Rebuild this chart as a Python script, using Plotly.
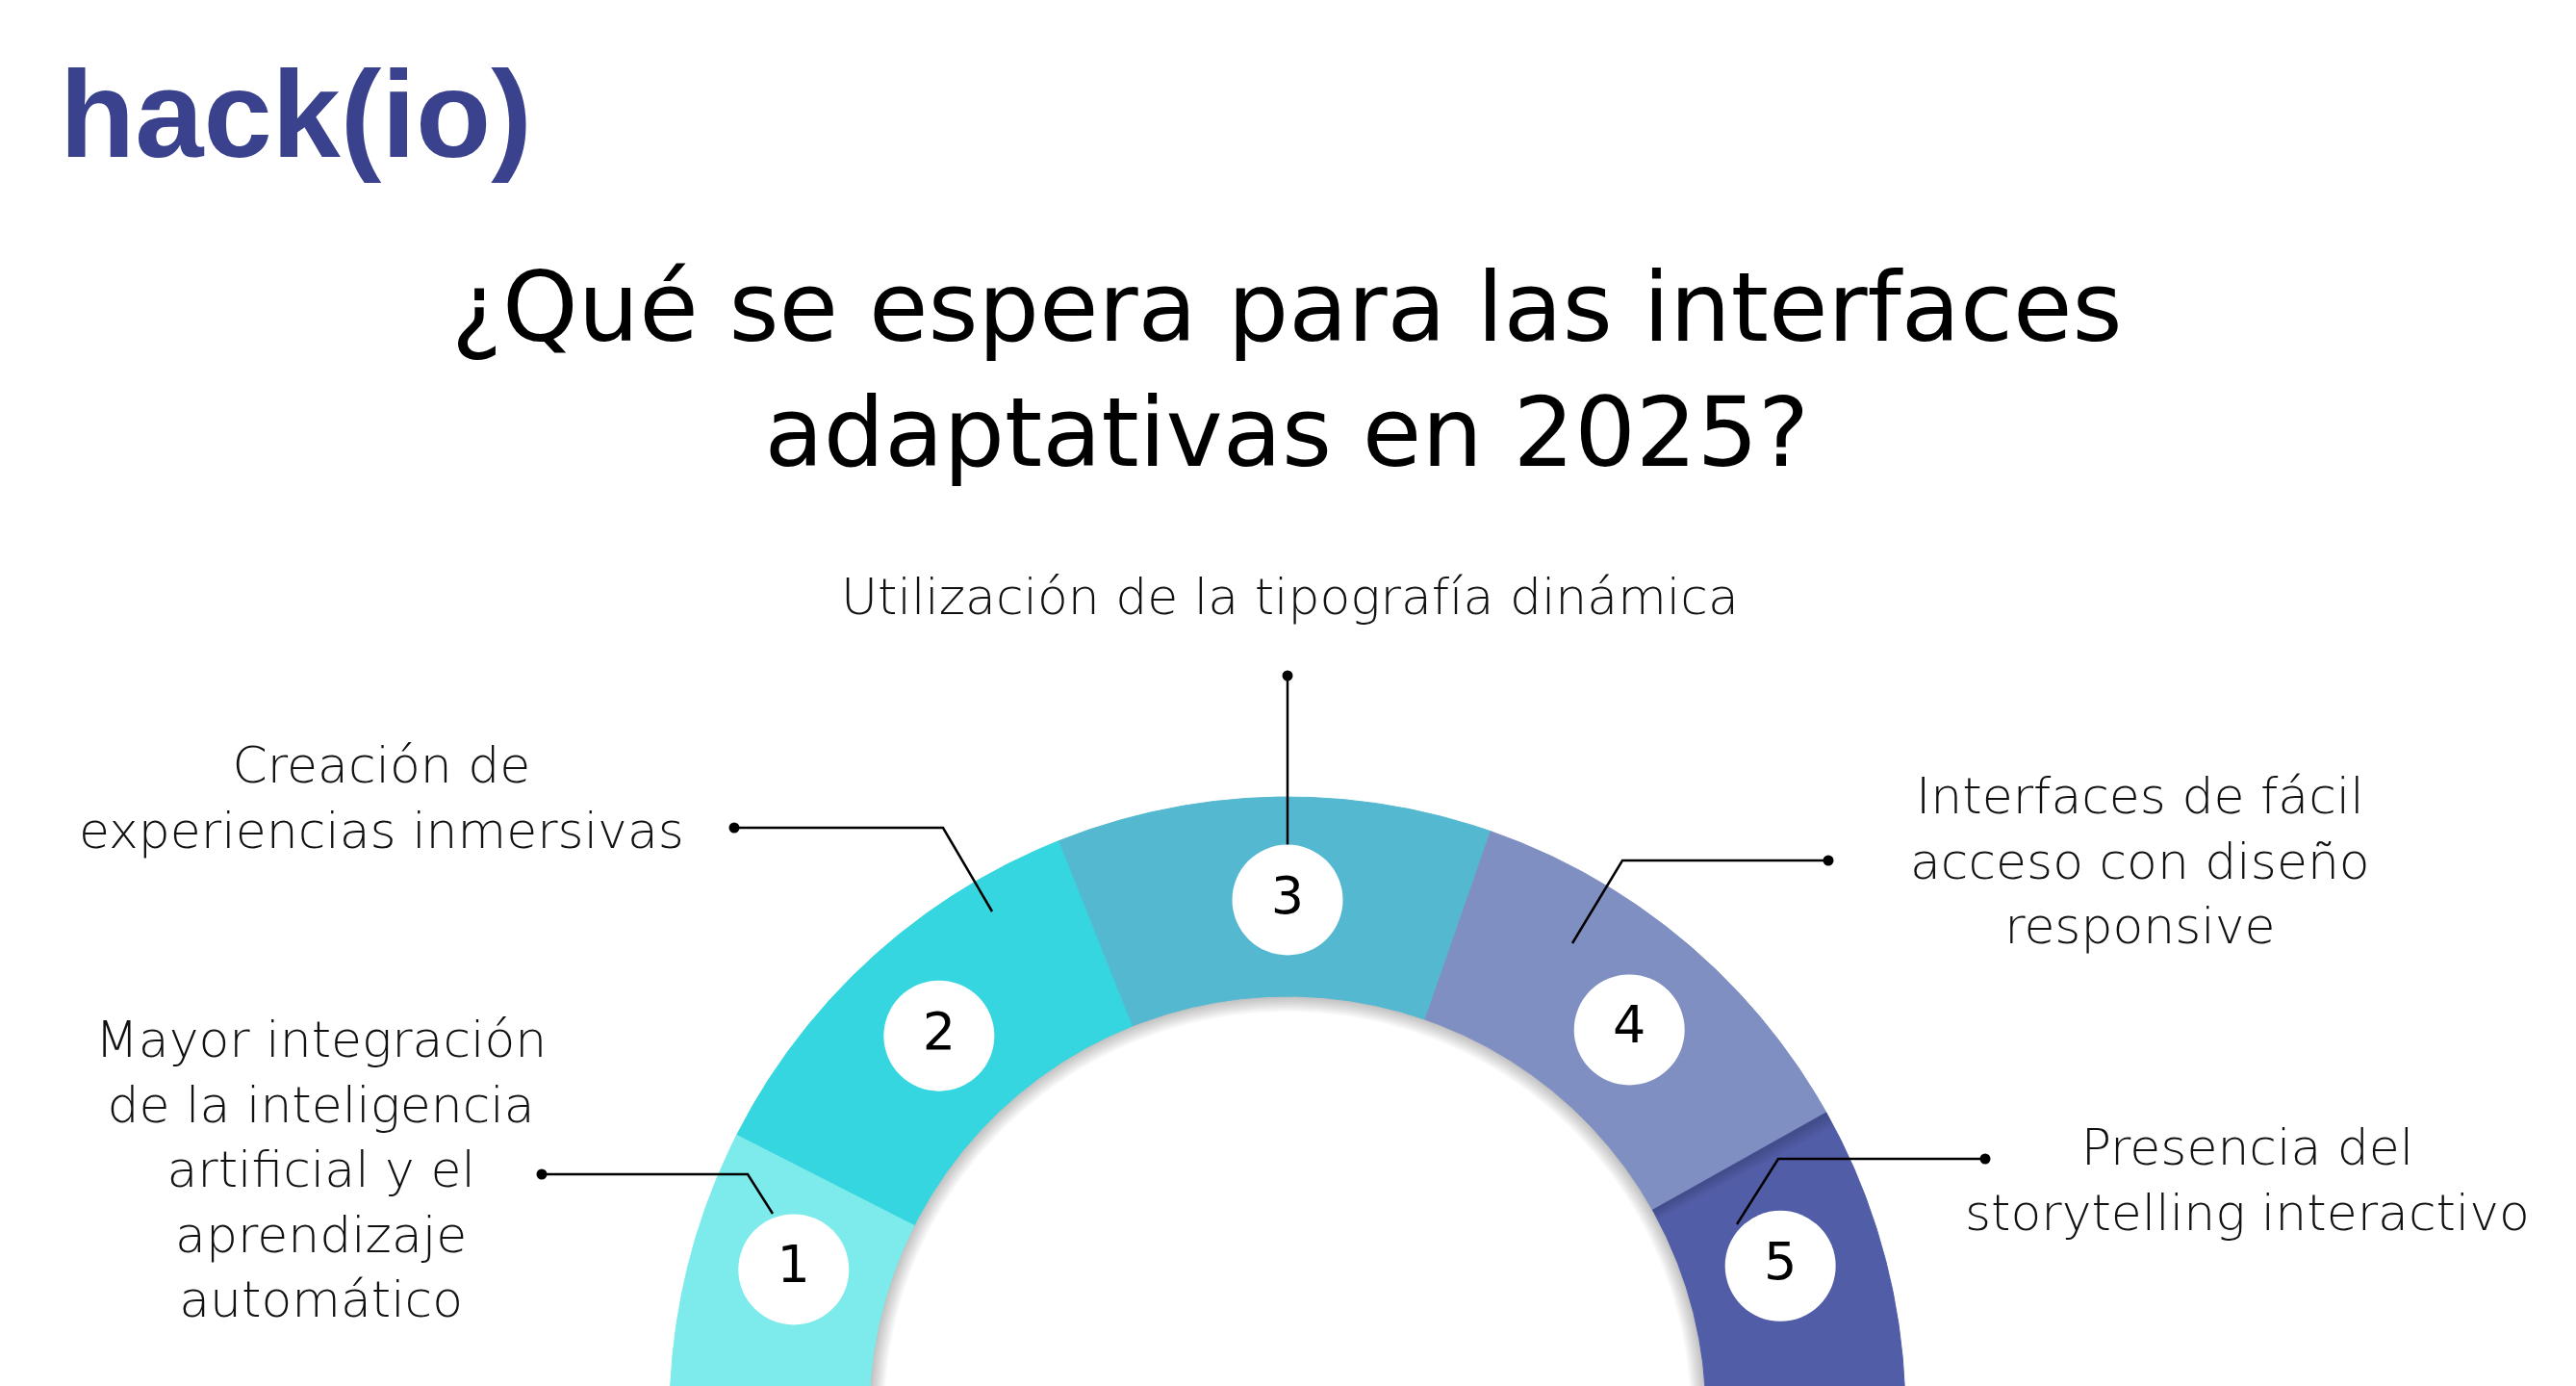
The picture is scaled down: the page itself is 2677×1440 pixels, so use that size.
import numpy as np
import plotly.graph_objects as go

# ---------------- data ----------------
ITEM_NUMBERS = ["1", "2", "3", "4", "5"]
SEGMENT_SPAN_DEG = [27.0, 41.3, 40.9, 41.5, 29.3]   # angular share of the half ring, left to right
SEGMENT_COLORS = ["#7DEBEB", "#35D6DF", "#54B8D0", "#7F8FC1", "#525DA8"]
ITEM_LABELS = [
    ["Mayor integración", "de la inteligencia", "artificial y el", "aprendizaje", "automático"],
    ["Creación de", "experiencias inmersivas"],
    ["Utilización de la tipografía dinámica"],
    ["Interfaces de fácil", "acceso con diseño", "responsive"],
    ["Presencia del", "storytelling interactivo"],
]
TITLE_LINES = ["¿Qué se espera para las interfaces", "adaptativas en 2025?"]
LOGO_TEXT = "hack(io)"

# ---------------- layout geometry (pixels) ----------------
W, H = 2677, 1440
CX, CY = 1338, 1470
R_OUT, R_IN = 642, 435
R_BADGE = 535
BADGE_ANGLE = [163.6, 132.6, 90.0, 48.4, 16.8]      # where the numbered badges sit on the ring
TEXT_FONT = "'DejaVu Sans', 'Open Sans', sans-serif"

# label blocks: centre x, centre y of the whole block
LABEL_POS = [(333, 1215), (396, 829), (1340, 620), (2224, 894), (2335, 1226)]
# leader lines (label end with dot first)
LEADERS = [
    [(563, 1220), (777, 1220), (803, 1261)],
    [(763, 860), (980, 860), (1031, 947)],
    [(1338, 702), (1338, 878)],
    [(1900, 894), (1686, 894), (1634, 980)],
    [(2063, 1204), (1848, 1204), (1805, 1272)],
]

fig = go.Figure()


def annulus(a0, a1, r0, r1, n=160):
    t = np.radians(np.linspace(a0, a1, n))
    xo = CX + r1 * np.cos(t)
    yo = CY - r1 * np.sin(t)
    xi = CX + r0 * np.cos(t[::-1])
    yi = CY - r0 * np.sin(t[::-1])
    return np.concatenate([xo, xi, xo[:1]]), np.concatenate([yo, yi, yo[:1]])


# soft shadow inside the inner edge
for d in range(2, 17, 2):
    xs, ys = annulus(0, 180, R_IN - d, R_IN + 2)
    fig.add_trace(go.Scatter(x=xs, y=ys, mode="lines", fill="toself",
                             fillcolor="rgba(0,0,0,0.03)", line=dict(width=0),
                             hoverinfo="skip", showlegend=False))

# ring segments
bounds = 180 - np.concatenate([[0], np.cumsum(SEGMENT_SPAN_DEG)])
for i, col in enumerate(SEGMENT_COLORS):
    a0, a1 = bounds[i], bounds[i + 1]
    xs, ys = annulus(a0, a1, R_IN, R_OUT)
    fig.add_trace(go.Scatter(x=xs, y=ys, mode="lines", fill="toself",
                             fillcolor=col, line=dict(width=1, color=col),
                             hoverinfo="skip", showlegend=False))

# subtle shadow where segment 5 meets segment 4
b45 = bounds[4]
for k in range(1, 5):
    xs, ys = annulus(b45 - 0.35 * k, b45, R_IN, R_OUT, n=40)
    fig.add_trace(go.Scatter(x=xs, y=ys, mode="lines", fill="toself",
                             fillcolor="rgba(0,0,0,0.045)", line=dict(width=0),
                             hoverinfo="skip", showlegend=False))

# leader lines
for pts in LEADERS:
    px = [p[0] for p in pts]
    py = [p[1] for p in pts]
    fig.add_trace(go.Scatter(x=px, y=py, mode="lines", line=dict(color="black", width=2.5),
                             hoverinfo="skip", showlegend=False))
    fig.add_trace(go.Scatter(x=[px[0]], y=[py[0]], mode="markers",
                             marker=dict(color="black", size=11),
                             hoverinfo="skip", showlegend=False))

# number badges
ang = np.radians(BADGE_ANGLE)
fig.add_trace(go.Scatter(
    x=CX + R_BADGE * np.cos(ang), y=CY - R_BADGE * np.sin(ang),
    mode="markers+text", text=ITEM_NUMBERS, textposition="middle center",
    marker=dict(color="white", size=115, line=dict(width=0)),
    textfont=dict(family=TEXT_FONT, size=54, color="black", weight=500),
    hoverinfo="skip", showlegend=False))

annotations = []
# item labels
for (lx, ly), lines in zip(LABEL_POS, ITEM_LABELS):
    annotations.append(dict(x=lx, y=ly, xref="x", yref="y",
                            text="<br>".join(lines), showarrow=False, align="center",
                            xanchor="center", yanchor="middle",
                            font=dict(family=TEXT_FONT, size=52, color="#111111", weight=300)))

# title
annotations.append(dict(x=1337, y=384, xref="x", yref="y", text="<br>".join(TITLE_LINES),
                        showarrow=False, align="center", xanchor="center", yanchor="middle",
                        font=dict(family=TEXT_FONT, size=100, color="black")))

# logo
annotations.append(dict(x=60, y=118, xref="x", yref="y", text=LOGO_TEXT, showarrow=False,
                        xanchor="left", yanchor="middle",
                        font=dict(family="'Liberation Sans', Arial, sans-serif",
                                  size=128, color="#3A428E", weight=700)))

fig.update_layout(
    width=W, height=H,
    margin=dict(l=0, r=0, t=0, b=0),
    paper_bgcolor="white", plot_bgcolor="white",
    xaxis=dict(range=[0, W], visible=False, fixedrange=True),
    yaxis=dict(range=[H, 0], visible=False, fixedrange=True),
    annotations=annotations,
    showlegend=False,
)

fig.write_html("out.html", config={"displayModeBar": False},
               post_script="document.body.style.margin='0px';document.body.style.overflow='hidden';")
